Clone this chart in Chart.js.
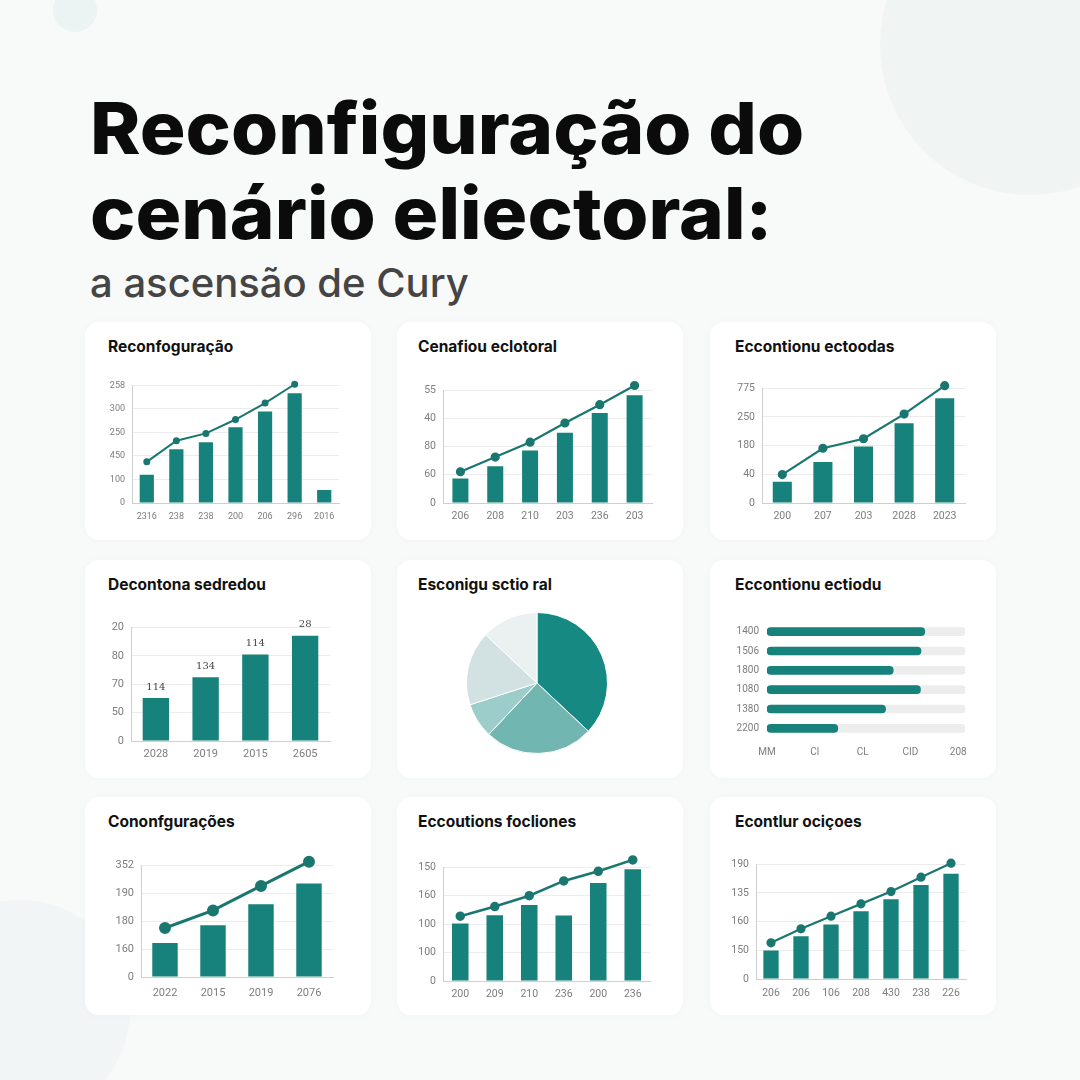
<!DOCTYPE html>
<html lang="pt">
<head>
<meta charset="utf-8">
<title>Reconfiguração do cenário eliectoral</title>
<script src="https://cdn.jsdelivr.net/npm/chart.js@4.4.0/dist/chart.umd.min.js"></script>
<style>
  html, body { margin: 0; padding: 0; }
  body { width: 1080px; height: 1080px; overflow: hidden; position: relative; background: #f8f9f9; font-family: Inter, 'Noto Sans', sans-serif; }
  .blob { position: absolute; border-radius: 50%; }
  h1 { position: absolute; left: 90px; top: 85px; margin: 0; font-size: 72px; line-height: 85px; font-weight: 800; color: #0b0b0b; white-space: nowrap; transform: scaleX(1.06); transform-origin: left top; }
  .sub { position: absolute; left: 90px; top: 259px; font-size: 40px; line-height: 48px; font-weight: 500; color: #454545; white-space: nowrap; }
  .card { position: absolute; width: 286px; height: 218px; background: #fff; border-radius: 14px; box-shadow: 0 0 9px rgba(0,0,0,0.028); }
  .ptitle { position: absolute; font-size: 15.5px; line-height: 18px; font-weight: 700; color: #111; white-space: nowrap; }
  canvas { position: absolute; }
</style>
</head>
<body>
<div class="blob" style="left:53px;top:-12px;width:44px;height:44px;background:#ebf4f3;"></div>
<div class="blob" style="left:880px;top:-105px;width:300px;height:300px;background:#f0f5f4;"></div>
<div class="blob" style="left:-90px;top:900px;width:220px;height:220px;background:#f1f5f5;"></div>

<h1>Reconfiguração do<br>cenário eliectoral:</h1>
<div class="sub">a ascensão de Cury</div>

<div class="card" style="left:85px;top:322px;"></div>
<div class="card" style="left:397px;top:322px;"></div>
<div class="card" style="left:710px;top:322px;"></div>
<div class="card" style="left:85px;top:560px;"></div>
<div class="card" style="left:397px;top:560px;"></div>
<div class="card" style="left:710px;top:560px;"></div>
<div class="card" style="left:85px;top:797px;"></div>
<div class="card" style="left:397px;top:797px;"></div>
<div class="card" style="left:710px;top:797px;"></div>

<div class="ptitle" style="left:108px;top:338px;">Reconfoguração</div>
<div class="ptitle" style="left:418px;top:338px;">Cenafiou eclotoral</div>
<div class="ptitle" style="left:735px;top:338px;">Eccontionu ectoodas</div>
<div class="ptitle" style="left:108px;top:576px;">Decontona sedredou</div>
<div class="ptitle" style="left:418px;top:576px;">Esconigu sctio ral</div>
<div class="ptitle" style="left:735px;top:576px;">Eccontionu ectiodu</div>
<div class="ptitle" style="left:108px;top:813px;">Cononfgurações</div>
<div class="ptitle" style="left:418px;top:813px;">Eccoutions focliones</div>
<div class="ptitle" style="left:735px;top:813px;">Econtlur ociçoes</div>

<script>
// values are in gridline units: the tick labels in the picture are not monotonic,
// so each y axis runs 0..n and the callback prints the label that stands there
const p1Labels = ['2316', '238', '238', '200', '206', '296', '2016'];
const p1Ticks = ['0', '100', '450', '250', '300', '258'];
const p1Bars = [1.2, 2.29, 2.58, 3.22, 3.89, 4.67, 0.55];
const p1Line = [1.75, 2.65, 2.96, 3.55, 4.25, 5.05, null];

const p2Labels = ['206', '208', '210', '203', '236', '203'];
const p2Ticks = ['0', '60', '80', '40', '55'];
const p2Bars = [0.87, 1.30, 1.86, 2.49, 3.19, 3.82];
const p2Line = [1.11, 1.63, 2.16, 2.84, 3.49, 4.17];

const p3Labels = ['200', '207', '203', '2028', '2023'];
const p3Ticks = ['0', '40', '180', '250', '775'];
const p3Bars = [0.74, 1.43, 1.97, 2.78, 3.65];
const p3Line = [0.99, 1.91, 2.24, 3.10, 4.09];

const p4Labels = ['2028', '2019', '2015', '2605'];
const p4Ticks = ['0', '50', '70', '80', '20'];
const p4Bars = [1.52, 2.25, 3.05, 3.71];
const p4Notes = ['114', '134', '114', '28'];

const p5Values = [37, 25, 8, 17, 13];

const p6Labels = ['1400', '1506', '1800', '1080', '1380', '2200'];
const p6Ticks = ['MM', 'Cl', 'CL', 'CID', '208'];
const p6Values = [3.30, 3.22, 2.64, 3.21, 2.48, 1.48];
const p6Track = [4.15, 4.15, 4.15, 4.15, 4.15, 4.15];

const p7Labels = ['2022', '2015', '2019', '2076'];
const p7Ticks = ['0', '160', '180', '190', '352'];
const p7Bars = [1.22, 1.86, 2.61, 3.36];
const p7Line = [1.76, 2.39, 3.27, 4.14];

const p8Labels = ['200', '209', '210', '236', '200', '236'];
const p8Ticks = ['0', '100', '100', '160', '150'];
const p8Bars = [2.02, 2.31, 2.67, 2.30, 3.45, 3.93];
const p8Line = [2.28, 2.62, 3.00, 3.52, 3.86, 4.26];

const p9Labels = ['206', '206', '106', '208', '430', '238', '226'];
const p9Ticks = ['0', '150', '160', '135', '190'];
const p9Bars = [0.99, 1.49, 1.90, 2.36, 2.78, 3.28, 3.67];
const p9Line = [1.26, 1.75, 2.19, 2.62, 3.05, 3.55, 4.04];

const TEAL = '#17827b';
const TEAL_LINE = '#1a7770';
const TICK = '#7d7d7d';
const GRID = '#ececec';
const AXIS = '#cfcfcf';
const PIE_COLORS = ['#168a82', '#71b6b1', '#9dcdca', '#d2e2e2', '#eaf1f0'];

function makeCanvas(left, top, w, h) {
  const c = document.createElement('canvas');
  c.width = w; c.height = h;
  c.style.left = left + 'px'; c.style.top = top + 'px';
  c.style.width = w + 'px'; c.style.height = h + 'px';
  document.body.appendChild(c);
  return c.getContext('2d');
}

// points above the top gridline would be skipped by chart.js, give them some room
const pointRoom = {
  id: 'pointRoom',
  beforeDatasetsDraw(chart) { chart.chartArea.top -= 12; },
  afterDatasetsDraw(chart) { chart.chartArea.top += 12; }
};

const YW = 44, PT = 10, PR = 8, XH = 26;

// plot = [left, top, right, bottom] of the plotting area in page pixels
function comboChart(plot, o) {
  const [L, T, R, B] = plot;
  const ctx = makeCanvas(L - YW, T - PT, R - L + YW + PR, B - T + PT + XH);
  const datasets = [];
  if (o.line) {
    datasets.push({
      type: 'line', data: o.line, order: 0, clip: false,
      borderColor: TEAL_LINE, backgroundColor: TEAL_LINE,
      borderWidth: o.lineWidth || 2, pointRadius: o.pointRadius || 3, tension: 0
    });
  }
  datasets.push({
    type: 'bar', data: o.bars, order: 1, backgroundColor: TEAL,
    barPercentage: o.barPct, categoryPercentage: 1
  });
  const font = { family: 'Roboto', size: o.fs };
  new Chart(ctx, {
    type: 'bar',
    data: { labels: o.labels, datasets },
    options: {
      responsive: false, animation: false,
      layout: { padding: { top: PT, right: PR, left: 0, bottom: 0 } },
      plugins: { legend: { display: false }, tooltip: { enabled: false } },
      scales: {
        x: {
          grid: { display: false, drawTicks: false },
          border: { display: true, color: AXIS },
          ticks: { color: TICK, font, padding: o.xPad, maxRotation: 0, autoSkip: false },
          afterFit: s => { s.height = XH; }
        },
        y: {
          min: 0, max: o.yTicks.length - 1,
          grid: { color: GRID, drawTicks: false },
          border: { display: true, color: AXIS },
          ticks: { stepSize: 1, color: TICK, font, padding: 7, callback: v => o.yTicks[Math.round(v)] },
          afterFit: s => { s.width = YW; }
        }
      }
    },
    plugins: [pointRoom].concat(o.plugins || [])
  });
}

comboChart([132, 383, 339, 503], { labels: p1Labels, yTicks: p1Ticks, bars: p1Bars, line: p1Line, barPct: 0.48, fs: 9, xPad: 8, lineWidth: 2, pointRadius: 2.5 });
comboChart([443, 387, 652, 503], { labels: p2Labels, yTicks: p2Ticks, bars: p2Bars, line: p2Line, barPct: 0.46, fs: 10.5, xPad: 7.5, lineWidth: 2.2, pointRadius: 3.5 });
comboChart([762, 385, 965, 503], { labels: p3Labels, yTicks: p3Ticks, bars: p3Bars, line: p3Line, barPct: 0.47, fs: 10.5, xPad: 7.5, lineWidth: 2.2, pointRadius: 3.5 });

const barNotes = {
  id: 'barNotes',
  afterDatasetsDraw(chart) {
    const c = chart.ctx;
    const meta = chart.getDatasetMeta(0);
    c.save();
    c.font = '10px "DejaVu Serif"';
    c.fillStyle = '#444';
    c.textAlign = 'center';
    c.textBaseline = 'bottom';
    meta.data.forEach((bar, i) => c.fillText(p4Notes[i], bar.x, bar.y - 6));
    c.restore();
  }
};
comboChart([131, 624, 330, 741], { labels: p4Labels, yTicks: p4Ticks, bars: p4Bars, barPct: 0.53, fs: 11, xPad: 7, plugins: [barNotes] });

// pie
new Chart(makeCanvas(466, 612, 142, 142), {
  type: 'pie',
  data: { labels: ['a', 'b', 'c', 'd', 'e'], datasets: [{ data: p5Values, backgroundColor: PIE_COLORS, borderColor: '#fff', borderWidth: 1 }] },
  options: { responsive: false, animation: false, plugins: { legend: { display: false }, tooltip: { enabled: false } } }
});

// horizontal progress bars
(function () {
  const L = 767, T = 612, R = 967, B = 738, YW6 = 50, XH6 = 24;
  const ctx = makeCanvas(L - YW6, T - 4, R - L + YW6 + 8, B - T + 4 + XH6);
  const font = { family: 'Roboto', size: 10 };
  new Chart(ctx, {
    type: 'bar',
    data: {
      labels: p6Labels,
      datasets: [
        { data: p6Values, backgroundColor: TEAL, barThickness: 8, borderRadius: 4, borderSkipped: false, grouped: false, order: 0 },
        { data: p6Track, backgroundColor: '#ededed', barThickness: 8, borderRadius: 4, borderSkipped: false, grouped: false, order: 1 }
      ]
    },
    options: {
      indexAxis: 'y', responsive: false, animation: false,
      layout: { padding: { top: 4, right: 8, left: 0, bottom: 0 } },
      plugins: { legend: { display: false }, tooltip: { enabled: false } },
      scales: {
        x: {
          min: 0, max: 4.15,
          grid: { display: false, drawTicks: false }, border: { display: false },
          ticks: { stepSize: 1, includeBounds: false, color: TICK, font, padding: 8, maxRotation: 0, callback: v => p6Ticks[Math.round(v)] },
          afterFit: s => { s.height = XH6; }
        },
        y: {
          grid: { display: false, drawTicks: false }, border: { display: false },
          ticks: { color: TICK, font, padding: 8 },
          afterFit: s => { s.width = YW6; }
        }
      }
    }
  });
})();

comboChart([141, 862, 333, 977], { labels: p7Labels, yTicks: p7Ticks, bars: p7Bars, line: p7Line, barPct: 0.53, fs: 11, xPad: 9.5, lineWidth: 3, pointRadius: 4.5 });
comboChart([443, 864, 650, 981], { labels: p8Labels, yTicks: p8Ticks, bars: p8Bars, line: p8Line, barPct: 0.48, fs: 10.5, xPad: 7, lineWidth: 2.5, pointRadius: 3.5 });
comboChart([756, 861, 966, 979], { labels: p9Labels, yTicks: p9Ticks, bars: p9Bars, line: p9Line, barPct: 0.51, fs: 10.5, xPad: 8, lineWidth: 2.2, pointRadius: 3.5 });
</script>
</body>
</html>
